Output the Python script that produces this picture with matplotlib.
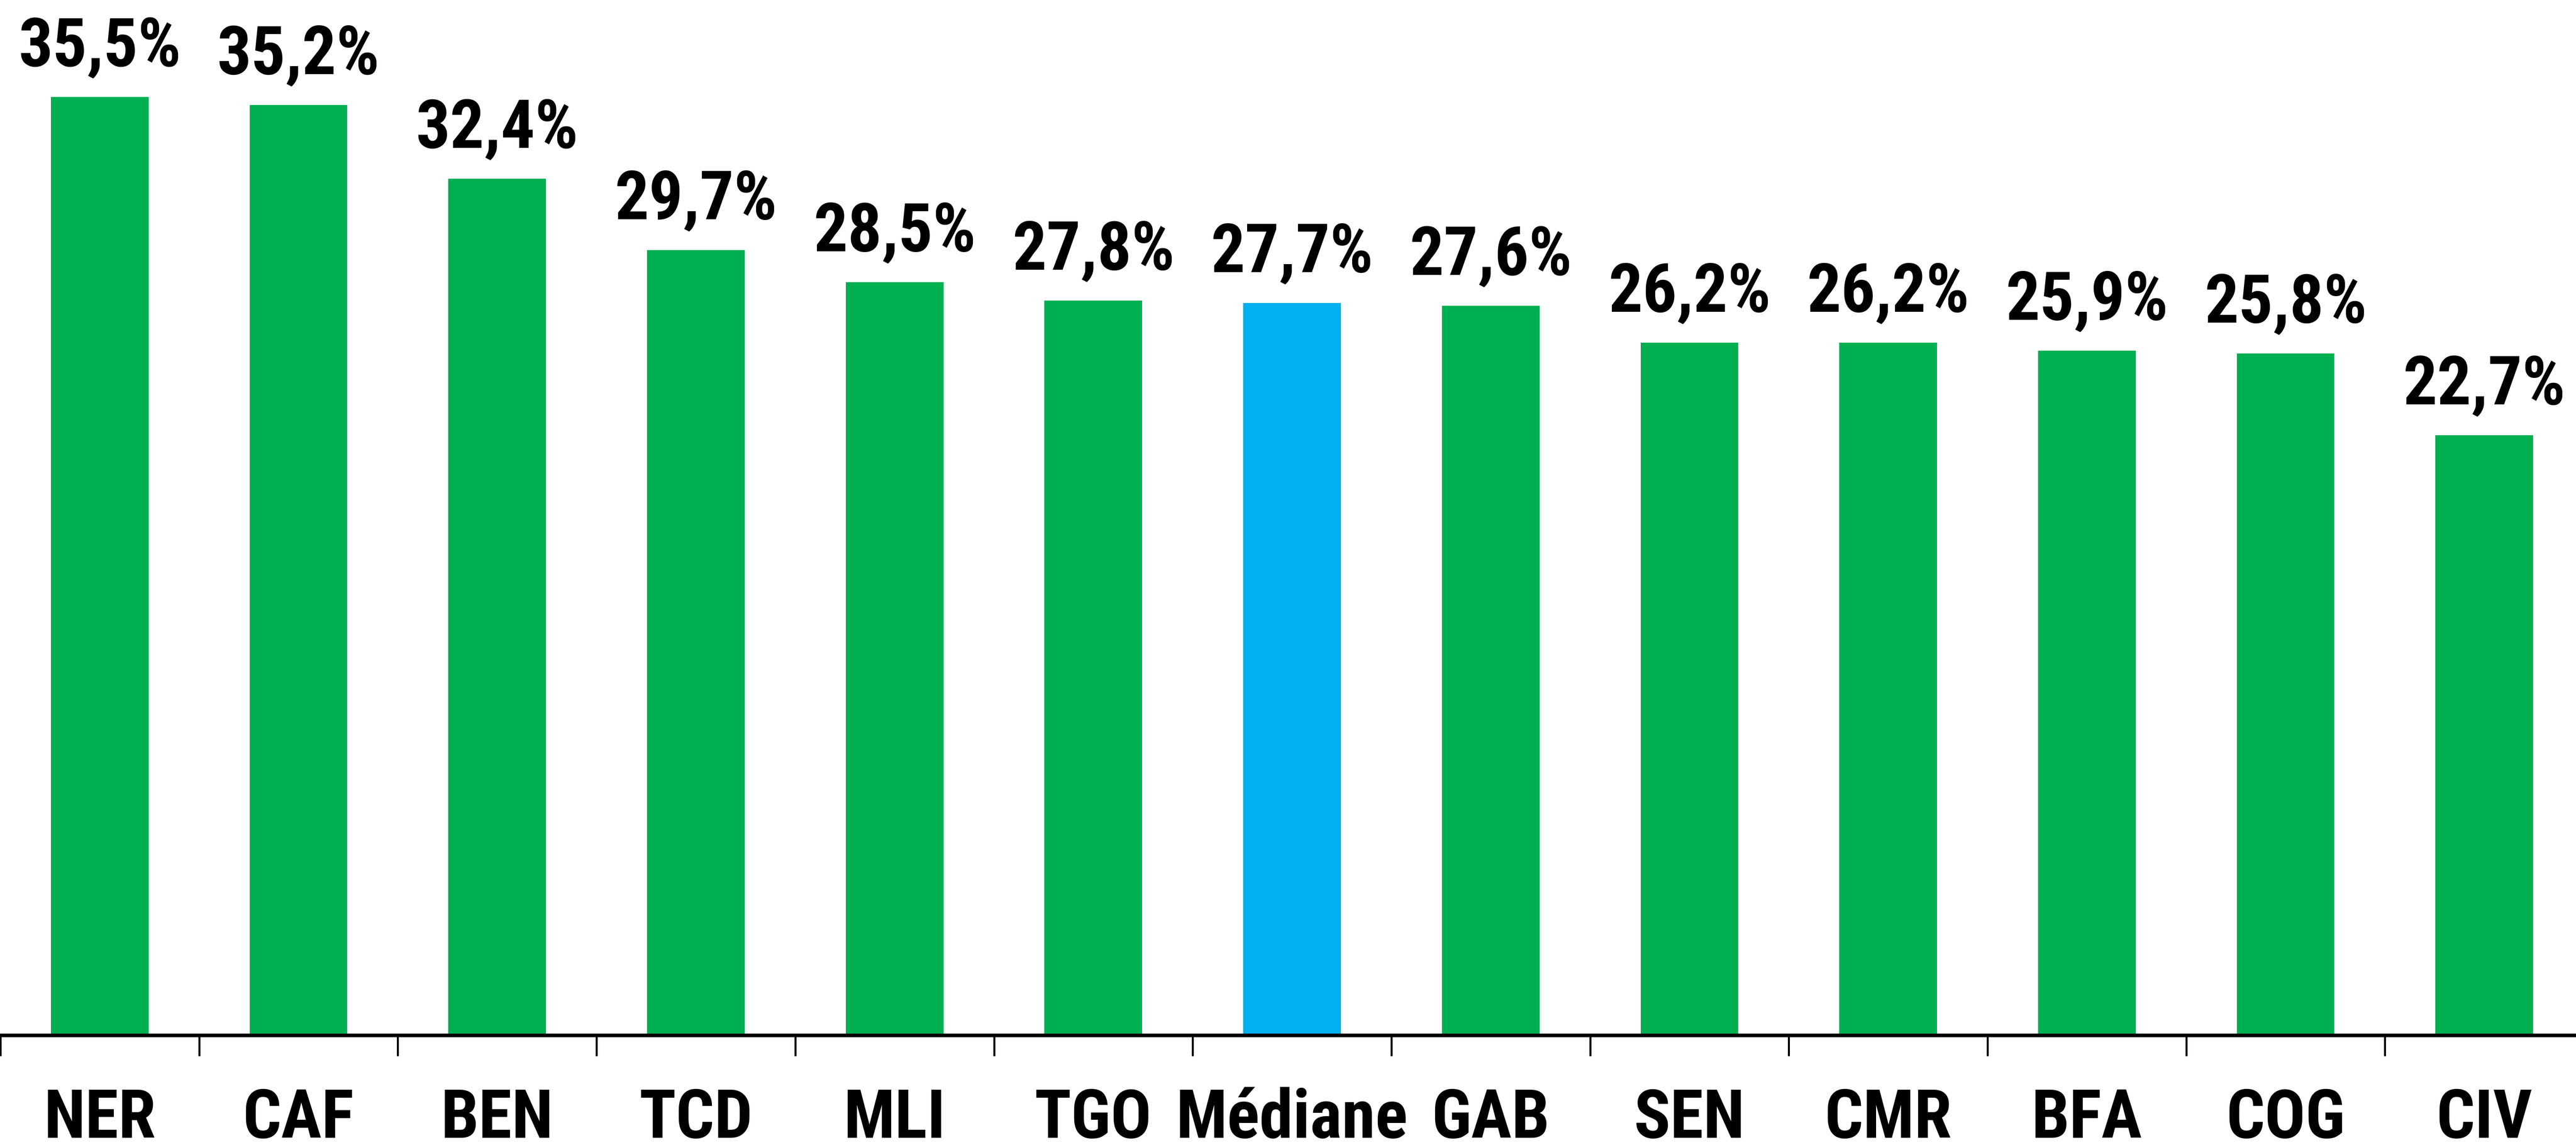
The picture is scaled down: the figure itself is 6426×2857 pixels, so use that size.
import matplotlib
matplotlib.use("Agg")
import matplotlib.pyplot as plt

categories = ["NER", "CAF", "BEN", "TCD", "MLI", "TGO", "Médiane", "GAB", "SEN", "CMR", "BFA", "COG", "CIV"]
values = [35.5, 35.2, 32.4, 29.7, 28.5, 27.8, 27.7, 27.6, 26.2, 26.2, 25.9, 25.8, 22.7]
labels = ["35,5%", "35,2%", "32,4%", "29,7%", "28,5%", "27,8%", "27,7%", "27,6%", "26,2%", "26,2%", "25,9%", "25,8%", "22,7%"]
highlight = "Médiane"

GREEN = "#00B050"
BLUE = "#00B0F0"
FONT = ["Roboto Condensed", "Liberation Sans", "DejaVu Sans"]
FS = 121.5

W, H, DPI = 6426, 2857, 100
fig = plt.figure(figsize=(W / DPI, H / DPI), dpi=DPI)
fig.patch.set_facecolor("white")

left_px = 1
step_px = 495.7
base_px = 2583
ax = fig.add_axes([left_px / W, (H - base_px) / H, 13 * step_px / W, base_px / H])

colors = [BLUE if c == highlight else GREEN for c in categories]
x = list(range(len(categories)))
ax.bar(x, values, width=0.492, color=colors, zorder=2)

ax.set_xlim(-0.5, 12.5)
ax.set_ylim(0, 39.17)

for xi, v, lab in zip(x, values, labels):
    ax.annotate(lab, (xi, v), xytext=(0, 56), textcoords="offset points",
                ha="center", va="baseline", fontsize=FS, fontweight="bold",
                family=FONT, color="black", annotation_clip=False)

for s in ["top", "right", "left"]:
    ax.spines[s].set_visible(False)
ax.spines["bottom"].set_linewidth(6.5)
ax.spines["bottom"].set_color("black")
ax.spines["bottom"].set_zorder(3)

ax.set_yticks([])
ax.set_xticks([i - 0.5 for i in range(14)])
ax.set_xticklabels([""] * 14)
ax.set_xticks(x, minor=True)
ax.set_xticklabels(categories, minor=True, fontsize=FS, fontweight="bold", family=FONT)
ax.tick_params(axis="x", which="major", length=37.5, width=3.6, direction="out", color="black")
ax.tick_params(axis="x", which="minor", length=0, pad=93)

fig.savefig("out.png", dpi=DPI, facecolor="white")
